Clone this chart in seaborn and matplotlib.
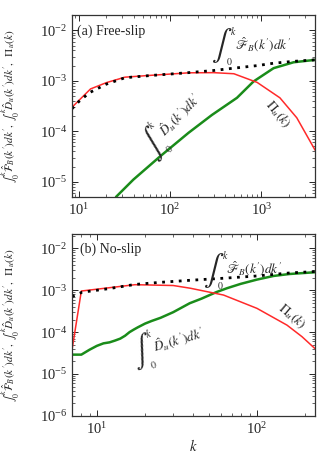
import numpy as np
import pandas as pd
import matplotlib
matplotlib.use("Agg")
import matplotlib.pyplot as plt
import seaborn as sns
from matplotlib.ticker import NullFormatter

# (a) free-slip
k_a_pi = [8.4, 13.4, 20, 32, 60, 100, 160, 300, 500, 900, 1600, 2450, 3900]
pi_a = [3.0e-4, 6.9e-4, 9.2e-4, 1.18e-3, 1.28e-3, 1.36e-3, 1.44e-3, 1.45e-3,
        1.38e-3, 9.3e-4, 4.6e-4, 1.85e-4, 4.2e-5]
k_a_f = [8.4, 10, 13, 20, 32, 60, 100, 166, 300, 500, 900, 1365, 2200, 3900]
f_a = [2.8e-4, 3.9e-4, 5.8e-4, 8.6e-4, 1.15e-3, 1.27e-3, 1.36e-3, 1.46e-3,
       1.6e-3, 1.78e-3, 2.0e-3, 2.23e-3, 2.42e-3, 2.6e-3]
k_a_d = [25.5, 39.5, 78, 159, 287, 541, 822, 1365, 2264, 3900]
d_a = [5.0e-6, 1.1e-5, 3.2e-5, 9.3e-5, 2.1e-4, 4.6e-4, 9.7e-4, 1.78e-3,
       2.33e-3, 2.6e-3]

# (b) no-slip
k_b_pi = [7.0, 8.0, 17.3, 30, 38.3, 61.8, 100, 154, 191, 231]
pi_b = [3.8e-5, 9.6e-4, 1.36e-3, 1.3e-3, 1.12e-3, 7.7e-4, 3.7e-4, 1.47e-4,
        7.8e-5, 4.0e-5]
k_b_f = [7.0, 8.1, 12, 17.3, 25, 38, 62, 100, 161, 231]
f_b = [7.1e-4, 9.0e-4, 1.1e-3, 1.38e-3, 1.55e-3, 1.73e-3, 1.94e-3, 2.2e-3,
       2.6e-3, 2.8e-3]
k_b_d = [7, 8, 9, 10, 11, 12, 13, 14, 15, 16, 17, 18, 20, 22, 25, 30, 38, 45,
         56, 65, 79, 100, 127, 160, 231]
d_b = [2.9e-5, 2.9e-5, 3.8e-5, 4.7e-5, 5.4e-5, 5.7e-5, 6.3e-5, 7.0e-5, 8.2e-5,
       1.0e-4, 1.15e-4, 1.3e-4, 1.6e-4, 1.85e-4, 2.2e-4, 3.0e-4, 4.9e-4, 6.3e-4,
       9.1e-4, 1.12e-3, 1.42e-3, 1.8e-3, 2.2e-3, 2.45e-3, 2.7e-3]

RED = "#ff2a2a"
GREEN = "#1a8c1a"

sns.set_style("ticks")
plt.rcParams["font.family"] = ["Liberation Serif", "DejaVu Serif"]
plt.rcParams["mathtext.fontset"] = "stix"
plt.rcParams["font.size"] = 9

ylab = (r"$\int_0^k \hat{\mathcal{F}}_B(k')dk',\ \int_0^k \hat{D}_u(k')dk',\ "
        r"\ \Pi_u(k)$")
fb_body = r"$\hat{\mathscr{F}}_B(k')dk'$"
du_body = r"$\hat{D}_u(k')dk'$"
pi_txt = r"$\Pi_u(k)$"


def int_label(ax, x, y, body, rot=0, fs=9.5):
    # big integral sign with limits, then the integrand, all rotated together
    th = np.deg2rad(rot)

    def place(txt, dx, dy, size, ha="left"):
        ox = dx * np.cos(th) - dy * np.sin(th)
        oy = dx * np.sin(th) + dy * np.cos(th)
        ax.annotate(txt, xy=(x, y), xycoords="axes fraction",
                    xytext=(ox, oy), textcoords="offset points",
                    fontsize=size, rotation=rot, rotation_mode="anchor",
                    ha=ha, va="center")

    place(r"$\int$", 0, 0, fs * 2.3, ha="center")
    place(r"$k$", 6, 11, fs * 0.75)
    place(r"$0$", 3, -11, fs * 0.75)
    place(body, 9, 1, fs)


fig = plt.figure(figsize=(3.29, 4.59), dpi=100)
ax1 = fig.add_axes([0.219, 0.571, 0.739, 0.396])
ax2 = fig.add_axes([0.219, 0.094, 0.739, 0.396])

panels = [
    (ax1, k_a_pi, pi_a, k_a_f, f_a, k_a_d, d_a, (8.4, 3900), (5e-6, 2e-2)),
    (ax2, k_b_pi, pi_b, k_b_f, f_b, k_b_d, d_b, (7.0, 231), (1e-6, 2.2e-2)),
]
for ax, kp, p, kf, f, kd, d, xl, yl in panels:
    sns.lineplot(x=kd, y=d, ax=ax, color=GREEN, lw=1.8)
    sns.lineplot(x=kp, y=p, ax=ax, color=RED, lw=1.1)
    sns.lineplot(x=kf, y=f, ax=ax, color="black", lw=2.0, ls=(0, (1, 2)))
    ax.set_xscale("log")
    ax.set_yscale("log")
    ax.set_xlim(*xl)
    ax.set_ylim(*yl)
    ax.tick_params(which="both", direction="in", top=True, right=True,
                   labelsize=10.5)
    ax.tick_params(which="major", length=4, width=0.7)
    ax.tick_params(which="minor", length=2, width=0.5)
    ax.xaxis.set_minor_formatter(NullFormatter())
    ax.yaxis.set_minor_formatter(NullFormatter())
    for s in ax.spines.values():
        s.set_color("#333333")
        s.set_linewidth(0.9)
    ax.set_ylabel(ylab, fontsize=8)
    ax.yaxis.set_label_coords(-0.2, 0.5)

ax1.text(0.02, 0.912, "(a) Free-slip", transform=ax1.transAxes, fontsize=10,
         va="center")
int_label(ax1, 0.617, 0.83, fb_body)
int_label(ax1, 0.335, 0.295, du_body, rot=45)
ax1.text(0.845, 0.455, pi_txt, transform=ax1.transAxes, fontsize=9.5,
         ha="center", va="center", rotation=-50)

ax2.text(0.033, 0.918, "(b) No-slip", transform=ax2.transAxes, fontsize=10,
         va="center")
int_label(ax2, 0.581, 0.80, fb_body)
int_label(ax2, 0.287, 0.353, du_body, rot=16)
ax2.text(0.905, 0.55, pi_txt, transform=ax2.transAxes, fontsize=9.5,
         ha="center", va="center", rotation=-40)
ax2.set_xlabel(r"$k$", fontsize=10.5, labelpad=1)

fig.savefig("out.png", dpi=100)
